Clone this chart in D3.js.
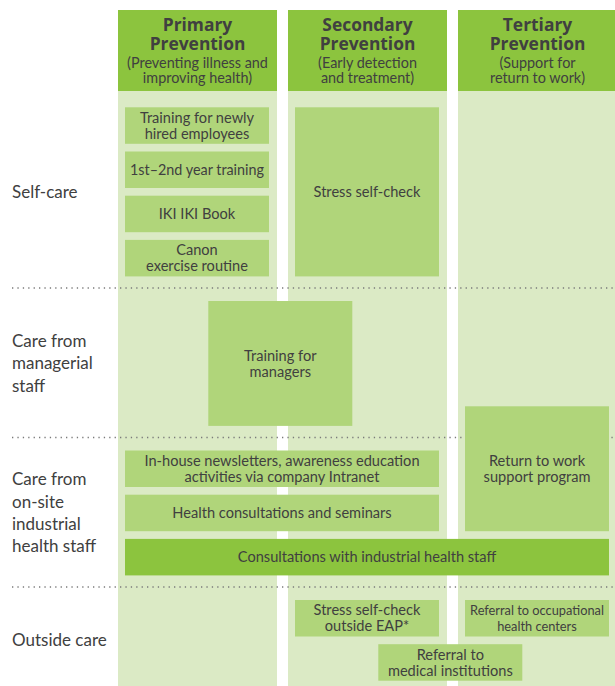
<!DOCTYPE html>
<html><head><meta charset="utf-8">
<script src="https://cdn.jsdelivr.net/npm/d3@7"></script>
<style>body{margin:0;background:#fff} svg{display:block}</style>
</head><body><svg id="c" width="615" height="686"></svg>
<script>
// ---------- data ----------
const columnTitles = [["Primary", "Prevention"], ["Secondary", "Prevention"], ["Tertiary", "Prevention"]];
const columnSubtitles = [["(Preventing illness and", "improving health)"], ["(Early detection", "and treatment)"], ["(Support for", "return to work)"]];
const rowLabels = [["Self-care"], ["Care from", "managerial", "staff"], ["Care from", "on-site", "industrial", "health staff"], ["Outside care"]];
const rowSlots = [4, 3, 3, 2];

const boxLabels = [
  ["Training for newly", "hired employees"],
  ["1st\u20132nd year training"],
  ["IKI IKI Book"],
  ["Canon", "exercise routine"],
  ["Stress self-check"],
  ["Training for", "managers"],
  ["Return to work", "support program"],
  ["In-house newsletters, awareness education", "activities via company Intranet"],
  ["Health consultations and seminars"],
  ["Consultations with industrial health staff"],
  ["Stress self-check", "outside EAP*"],
  ["Referral to occupational", "health centers"],
  ["Referral to", "medical institutions"]
];
// grid placement: row, starting slot, slot count, starting column, column count
const boxRow   = [0, 0, 0, 0, 0, 1, 2, 2, 2, 2, 3, 3, 3];
const boxSlot  = [0, 1, 2, 3, 0, 0, -1, 0, 1, 2, 0, 0, 1];
const boxSpanS = [1, 1, 1, 1, 4, 3, 3, 1, 1, 1, 1, 1, 1];
const boxCol   = [0, 0, 0, 0, 1, 0.49, 2, 0, 0, 0, 1, 2, 1.49];
const boxSpanC = [1, 1, 1, 1, 1, 1, 1, 2, 2, 3, 1, 1, 1];
const boxStrong = [false, false, false, false, false, false, false, false, false, true, false, false, false];

// ---------- style / layout ----------
const W = 615, H = 686;
const C = { head: "#8cc43e", light: "#dbeac5", box: "#b0d57a", strong: "#8cc43e", text: "#404040", dot: "#7a7a7a" };
const FONT = "Lato, 'Open Sans', sans-serif";
const TITLE_FONT = "'Open Sans', Lato, sans-serif";
const headerTop = 10, headerBottom = 91;
const slotH = 44.2, slotGap = 7.7, firstPad = 16.3, padTop = 13, padBottom = 11.6;
const colStride = 170, colW = 159, colLeft = 118;

const svg = d3.select("#c");
const x = d3.scaleLinear().domain([0, 1]).range([colLeft, colLeft + colStride]);

// row geometry
const rows = [];
let yCur = headerBottom + firstPad;
rowSlots.forEach((n, i) => {
  const start = yCur;
  const end = start + n * slotH - slotGap;
  const divider = end + padBottom;
  rows.push({ start, end, divider, y: d3.scaleLinear().domain([0, 1]).range([start, start + slotH]) });
  yCur = divider + padTop;
});

// column backgrounds + headers
columnTitles.forEach((t, i) => {
  svg.append("rect").attr("x", x(i)).attr("y", headerBottom).attr("width", colW).attr("height", H - headerBottom).attr("fill", C.light);
  svg.append("rect").attr("x", x(i)).attr("y", headerTop).attr("width", colW).attr("height", headerBottom - headerTop).attr("fill", C.head);
  const cx = x(i) + colW / 2;
  const g = svg.append("text").attr("fill", C.text).attr("text-anchor", "middle");
  t.forEach((s, k) => g.append("tspan").attr("x", cx).attr("y", headerTop + 20.5 + k * 19.1)
    .attr("font-family", TITLE_FONT).attr("font-size", 17.4).attr("font-weight", 700).text(s));
  columnSubtitles[i].forEach((s, k) => g.append("tspan").attr("x", cx).attr("y", headerTop + 57.6 + k * 15.5)
    .attr("font-family", FONT).attr("font-size", 14.4).text(s));
});

// dotted dividers
rows.slice(0, -1).forEach(r => {
  svg.append("line").attr("x1", 12).attr("x2", W).attr("y1", r.divider).attr("y2", r.divider)
    .attr("stroke", C.dot).attr("stroke-width", 1.3).attr("stroke-dasharray", "1.3 4.1");
});

// row labels
rowLabels.forEach((lines, i) => {
  const r = rows[i];
  const cy = (r.start + r.end) / 2;
  const lh = 22.4;
  const t = svg.append("text").attr("font-family", FONT).attr("font-size", 17).attr("fill", C.text);
  lines.forEach((s, k) => t.append("tspan").attr("x", 12).attr("y", cy + (k - (lines.length - 1) / 2) * lh + 5.8).text(s));
});

// boxes
boxLabels.forEach((lines, i) => {
  const r = rows[boxRow[i]];
  const y0 = r.y(boxSlot[i]);
  const y1 = r.y(boxSlot[i] + boxSpanS[i]) - slotGap;
  const x0 = x(boxCol[i]) + 7;
  const x1 = x(boxCol[i] + boxSpanC[i]) - (colStride - colW) - 8;
  svg.append("rect").attr("x", x0).attr("y", y0).attr("width", x1 - x0).attr("height", y1 - y0)
    .attr("fill", boxStrong[i] ? C.strong : C.box);
  const cy = (y0 + y1) / 2, cx = (x0 + x1) / 2;
  const maxW = (x1 - x0) - 10;
  const base = 14.6;
  const t = svg.append("text").attr("font-family", FONT).attr("font-size", base).attr("fill", C.text).attr("text-anchor", "middle");
  const spans = lines.map((s, k) => t.append("tspan").attr("x", cx).attr("y", cy + (k - (lines.length - 1) / 2) * 15.9 + 5.1).text(s));
  const widest = d3.max(spans, sp => sp.node().getComputedTextLength());
  if (widest > maxW) t.attr("font-size", base * maxW / widest);
});
</script></body></html>
